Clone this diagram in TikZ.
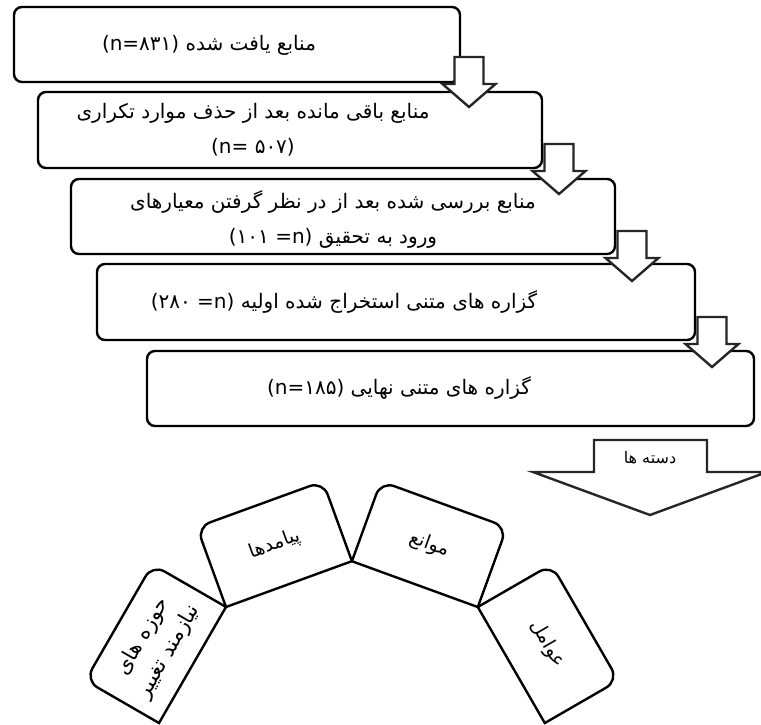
\documentclass[tikz,border=0pt]{standalone}
\usepackage{fontspec}
\TeXXeTstate=1
\newfontfamily\fa[Script=Arabic]{DejaVu Sans}
\setmainfont{DejaVu Sans}
\newcommand{\lt}[1]{{\rmfamily #1}}
\begin{document}
\begin{tikzpicture}[x=1pt,y=1pt,
  box/.style={draw=black, line width=2.4pt, rounded corners=8pt, inner sep=0pt},
  blockarrow/.style={draw=black!85, line width=2.4pt, fill=white, line join=miter},
  fanline/.style={draw=black, line width=2.4pt, line join=miter},
  lbl/.style={font=\fa\fontsize{20}{35}\selectfont, align=center, inner sep=0pt},
  fanlbl/.style={font=\fa\fontsize{19}{30}\selectfont, align=center, inner sep=0pt},
  downarrow/.pic={\draw[blockarrow] (-14.5,0) -- (-14.5,-27) -- (-26.5,-27) -- (0,-50) -- (26.5,-27) -- (14.5,-27) -- (14.5,0) -- cycle;}
]
\useasboundingbox (0,0) rectangle (761,-724);

% flow boxes
\node[box, minimum width=446pt, minimum height=75pt] (b1) at (237,-44.5) {};
\node[box, minimum width=504pt, minimum height=76pt] (b2) at (290,-130) {};
\node[box, minimum width=544pt, minimum height=75pt] (b3) at (343,-216.5) {};
\node[box, minimum width=598pt, minimum height=76pt] (b4) at (396,-302) {};
\node[box, minimum width=607pt, minimum height=75pt] (b5) at (450.5,-388.5) {};

% texts
\node[lbl] (t1) at (209,-45) {\beginR منابع یافت شده \beginL\lt{(n=}۸۳۱\lt{)}\endL\endR};
\node[lbl] (t2) at (253,-130) {\beginR منابع باقی مانده بعد از حذف موارد تکراری\endR\\\beginL\lt{(n= }۵۰۷\lt{)}\endL};
\node[lbl] (t3) at (333,-219) {\beginR منابع بررسی شده بعد از در نظر گرفتن معیارهای\endR\\\beginR ورود به تحقیق \beginL\lt{(}۱۰۱\lt{ =n)}\endL\endR};
\node[lbl] (t4) at (344,-302) {\beginR گزاره های متنی استخراج شده اولیه \beginL\lt{(}۲۸۰\lt{ =n)}\endL\endR};
\node[lbl] (t5) at (399,-388) {\beginR گزاره های متنی نهایی \beginL\lt{(n=}۱۸۵\lt{)}\endL\endR};

% small block arrows
\pic (a1) at (469,-57) {downarrow};
\pic (a2) at (559,-144) {downarrow};
\pic (a3) at (632,-231) {downarrow};
\pic (a4) at (712,-317) {downarrow};

% big block arrow
\draw[blockarrow] (594,-440) -- (707,-440) -- (707,-472) -- (767,-472) -- (650,-515) -- (533,-472) -- (594,-472) -- cycle;
\node[lbl, font=\fa\fontsize{16}{20}\selectfont] (t6) at (650,-458) {\beginR دسته ها\endR};

% fan of categories
\begin{scope}[shift={(159,-723)}, rotate=60]
  \draw[fanline] (0,0) -- (134,0) -- (134,71) arc[start angle=0,end angle=90,radius=14] -- (14,85) arc[start angle=90,end angle=180,radius=14] -- cycle;
  \node[fanlbl, font=\fa\fontsize{21}{30}\selectfont, rotate=60] (f1) at (67,42) {\beginR حوزه های\endR\\\beginR نیازمند تغییر\endR};
\end{scope}
\begin{scope}[shift={(226,-607)}, rotate=20]
  \draw[fanline] (0,0) -- (134,0) -- (134,71) arc[start angle=0,end angle=90,radius=14] -- (14,85) arc[start angle=90,end angle=180,radius=14] -- cycle;
  \node[fanlbl, rotate=20] (f2) at (67,42) {\beginR پیامدها\endR};
\end{scope}
\begin{scope}[shift={(351.9,-561.2)}, rotate=-20]
  \draw[fanline] (0,0) -- (134,0) -- (134,71) arc[start angle=0,end angle=90,radius=14] -- (14,85) arc[start angle=90,end angle=180,radius=14] -- cycle;
  \node[fanlbl, rotate=-20] (f3) at (67,42) {\beginR موانع\endR};
\end{scope}
\begin{scope}[shift={(477.8,-607)}, rotate=-60]
  \draw[fanline] (0,0) -- (134,0) -- (134,71) arc[start angle=0,end angle=90,radius=14] -- (14,85) arc[start angle=90,end angle=180,radius=14] -- cycle;
  \node[fanlbl, rotate=-60] (f4) at (67,42) {\beginR عوامل\endR};
\end{scope}
\end{tikzpicture}
\end{document}
